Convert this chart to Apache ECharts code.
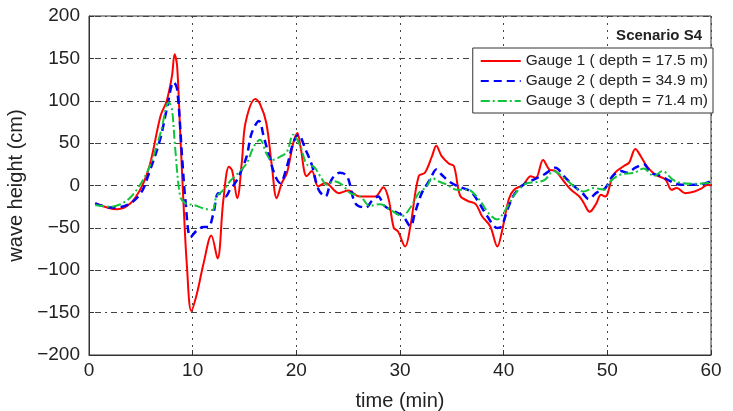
<!DOCTYPE html>
<html>
<head>
<meta charset="utf-8">
<script src="https://cdn.jsdelivr.net/npm/echarts@6/dist/echarts.min.js"></script>
<style>
  html, body { margin: 0; padding: 0; background: #fff; }
  #main { width: 733px; height: 411px; }
</style>
</head>
<body>
<div id="main"></div>
<script>
"use strict";

// time (min) and wave height (cm)
const g1Time = [0.6, 2.7, 4, 5.1, 5.9, 6.9, 7.5, 8.0, 8.26, 8.5, 8.8, 9.1, 9.45, 9.87, 10.4, 11.05, 11.8, 12.4, 12.96, 13.5, 13.8, 14.3, 14.76, 15.1, 16.05, 16.5, 17.1, 17.65, 18.1, 18.6, 19.1, 19.7, 20.1, 20.4, 21.0, 21.5, 22.1, 22.8, 24.1, 25, 26.1, 27.6, 28.4, 28.9, 29.4, 29.8, 30.5, 31, 31.8, 32.4, 33.1, 33.5, 34, 34.7, 35.2, 35.8, 36.5, 37.3, 37.9, 38.7, 39.4, 39.8, 40.5, 41, 41.9, 42.6, 43.1, 43.8, 44.4, 45, 45.8, 46.5, 47.3, 47.7, 48.3, 48.9, 49.4, 49.8, 50.6, 51.6, 52.1, 52.7, 53.2, 53.8, 54.6, 55.6, 56.2, 56.7, 57.5, 58.4, 59, 59.7, 60];
const g1Height = [-21, -28, -21, -1, 26, 82, 100, 129, 155, 141, 62, -17, -96, -148, -128, -92, -59, -86, -17, 22, 18, -15, 30, 74, 102, 96, 74, 22, -15, 3, 15, 50, 62, 46, 11, 17, -1, 3, -9, -6, -13, -13, -2, -16, -50, -54, -72, -48, 11, 15, 35, 47, 35, 26, 23, -12, -18, -22, -36, -48, -72, -56, -16, -5, 1, 11, 9, 30, 19, 17, 5, -5, -13, -20, -31, -22, -11, -13, 13, 23, 27, 43, 35, 23, 13, 7, -5, -3, -9, -7, -4, 1, 0];

const g2Time = [0.6, 2.1, 3.7, 5, 5.8, 6.85, 7.5, 8.17, 8.5, 9.0, 9.3, 9.8, 10.4, 11.05, 11.5, 12, 12.5, 13.15, 13.6, 14.1, 14.6, 15.2, 15.7, 16.4, 16.85, 17.3, 17.97, 18.45, 19.1, 19.7, 20.2, 20.9, 21.5, 22.15, 22.8, 23.4, 24.2, 24.9, 25.7, 26.7, 27.3, 27.9, 28.5, 29.7, 30.3, 31, 31.45, 32.1, 32.9, 33.5, 34, 34.7, 35.6, 36.8, 37.6, 38.4, 39.4, 39.8, 40.5, 41.1, 41.9, 42.9, 43.9, 45, 45.8, 46.8, 47.6, 48.2, 48.9, 49.8, 50.5, 51.3, 51.9, 52.7, 53.5, 54.2, 55.2, 56.1, 57.1, 58.4, 59.3, 60];
const g2Height = [-21, -26, -23, -9, 15, 54, 90, 122, 114, 30, -17, -61, -53, -49, -49, -33, -9, -13, -5, 3, 15, 34, 62, 76, 58, 38, 11, 3, 23, 50, 60, 42, 24, -5, -13, 7, 15, 11, -21, -26, -18, -13, -24, -32, -36, -48, -32, -9, 7, 19, 13, 5, -1, -7, -20, -36, -50, -48, -24, -9, 1, 7, 13, 21, 11, -1, -9, -16, -9, -3, 11, 17, 15, 21, 25, 15, 11, 5, 1, 1, 2, 5];

const g3Time = [0.6, 2.1, 3.5, 4.6, 5.8, 6.9, 7.7, 8.0, 8.3, 8.8, 9.3, 10.1, 11.05, 11.9, 12.3, 13, 13.6, 14.4, 15.2, 15.9, 16.5, 17.1, 17.6, 18.45, 19.1, 19.7, 20.4, 21.0, 21.7, 22.3, 22.96, 23.6, 24.4, 25.2, 26.2, 27.1, 28.1, 29, 30.2, 31, 31.8, 32.6, 33.1, 33.7, 34.5, 35.5, 36.5, 37.6, 38.5, 39.4, 40, 40.6, 41.3, 42.3, 43.2, 44, 44.8, 45.8, 46.8, 47.7, 48.7, 49.7, 50.3, 51.3, 52.6, 53.5, 54.5, 55.3, 56.3, 57.1, 58.4, 60];
const g3Height = [-23, -25, -19, -5, 21, 62, 98, 90, 46, -13, -21, -23, -27, -29, -13, -5, 5, 15, 26, 46, 54, 38, 30, 34, 40, 60, 46, 25, 22, 11, 1, 5, 1, -9, -13, -24, -22, -28, -36, -26, -9, -1, 9, 5, 1, -5, -5, -16, -32, -40, -32, -20, -7, 3, 4, 7, 17, 9, -1, -7, -3, -5, 5, 13, 15, 20, 11, 17, 7, 3, 2, 3];

const seriesNames = ["Gauge 1 ( depth = 17.5 m)", "Gauge 2 ( depth = 34.9 m)", "Gauge 3 ( depth = 71.4 m)"];
const yTicks = [-200, -150, -100, -50, 0, 50, 100, 150, 200];

const pairs = (t, v) => t.map((x, i) => [x, v[i]]);
const minus = (v) => String(v).replace("-", "\u2212");

let chartDom = document.getElementById("main");
let myChart = echarts.init(chartDom);

let option = {
  animation: false,
  textStyle: { fontFamily: "Liberation Sans" },
  title: {
    text: "Scenario S4",
    right: 26,
    top: 23,
    textStyle: { fontSize: 15, fontWeight: "bold", color: "#222" },
  },
  legend: {
    data: seriesNames,
    orient: "vertical",
    right: 20,
    top: 48,
    itemWidth: 40,
    itemHeight: 10,
    itemGap: 4,
    padding: [5, 5, 4, 7],
    backgroundColor: "#fff",
    borderColor: "#333",
    borderWidth: 1,
    borderRadius: 0,
    itemStyle: { color: "transparent", borderWidth: 0 },
    textStyle: { fontSize: 15.5, color: "#222" },
  },
  grid: {
    left: 89,
    right: 22,
    top: 16,
    bottom: 56,
    show: true,
    borderColor: "#333",
    borderWidth: 1,
    outerBoundsMode: "none",
  },
  xAxis: {
    type: "value",
    min: 0,
    max: 60,
    interval: 10,
    name: "time (min)",
    nameLocation: "middle",
    nameGap: 36,
    nameTextStyle: { fontSize: 20, color: "#222" },
    axisLine: { onZero: false, lineStyle: { color: "#333" } },
    axisTick: { inside: true, length: 5, lineStyle: { color: "#333" } },
    axisLabel: { fontSize: 19, color: "#222", margin: 6 },
    splitLine: { lineStyle: { type: [2, 5], color: "#444" } },
  },
  yAxis: {
    type: "value",
    min: yTicks[0],
    max: yTicks[yTicks.length - 1],
    interval: 50,
    name: "wave height (cm)",
    nameLocation: "middle",
    nameGap: 49,
    nameTextStyle: { fontSize: 20, color: "#222" },
    axisLine: { onZero: false, lineStyle: { color: "#333" } },
    axisTick: { inside: true, length: 5, lineStyle: { color: "#333" } },
    axisLabel: { fontSize: 19, color: "#222", margin: 9, formatter: minus },
    splitLine: { lineStyle: { type: [2, 4, 6, 4], color: "#444" } },
  },
  series: [
    {
      name: seriesNames[0],
      type: "line",
      data: pairs(g1Time, g1Height),
      smooth: 0.35,
      symbol: "none",
      color: "#ff0000",
      lineStyle: { width: 2, color: "#ff0000" },
      z: 3,
    },
    {
      name: seriesNames[1],
      type: "line",
      data: pairs(g2Time, g2Height),
      smooth: 0.35,
      symbol: "none",
      color: "#0000ff",
      lineStyle: { width: 2.5, color: "#0000ff", type: [8, 5] },
      z: 4,
    },
    {
      name: seriesNames[2],
      type: "line",
      data: pairs(g3Time, g3Height),
      smooth: 0.35,
      symbol: "none",
      color: "#11c43c",
      lineStyle: { width: 2, color: "#11c43c", type: [9, 3, 2, 3] },
      z: 5,
    },
  ],
};

option && myChart.setOption(option);
</script>
</body>
</html>
